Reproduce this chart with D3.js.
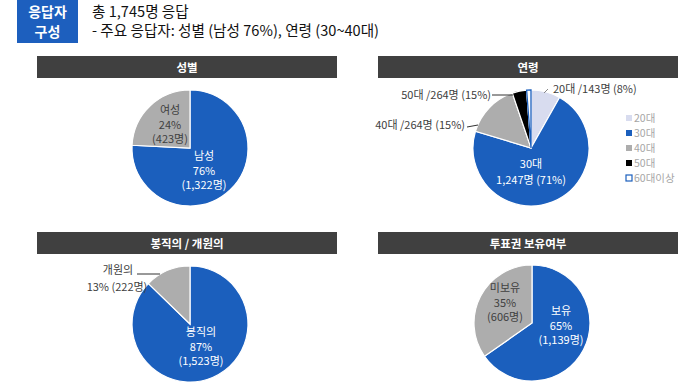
<!DOCTYPE html>
<html>
<head>
<meta charset="utf-8">
<script src="https://cdn.jsdelivr.net/npm/d3@7"></script>
<style>
  body { margin: 0; background: #fff; }
  svg { font-family: "Noto Sans CJK KR", "Noto Sans", sans-serif; }
</style>
</head>
<body>
<div id="chart"></div>
<script>
// data
const genderCats = ['남성', '여성'];
const genderVals = [1322, 423];
const genderLbls = [['남성', '76%', '(1,322명)'], ['여성', '24%', '(423명)']];

const ageCats = ['20대', '30대', '40대', '50대', '60대이상'];
const ageVals = [143, 1247, 264, 70, 21];
const ageLbls = ['20대 /143명 (8%)', '30대', '40대 /264명 (15%)', '50대 /264명 (15%)'];

const jobCats = ['봉직의', '개원의'];
const jobVals = [1523, 222];
const jobLbls = [['봉직의', '87%', '(1,523명)'], ['개원의', '13% (222명)']];

const voteCats = ['보유', '미보유'];
const voteVals = [1139, 606];
const voteLbls = [['보유', '65%', '(1,139명)'], ['미보유', '35%', '(606명)']];

const panelTitles = ['성별', '연령', '봉직의 / 개원의', '투표권 보유여부'];

const BLUE = '#1b5fbd', GRAY = '#adadad', LAV = '#d8dcef', BLACK = '#000';

const width = 680, height = 389;
const svg = d3.select('#chart').append('svg').attr('width', width).attr('height', height);

// badge + heading
svg.append('rect').attr('x', 17).attr('y', 0).attr('width', 61).attr('height', 43).attr('fill', '#1d5fbe');
svg.append('text').attr('x', 47.5).attr('y', 17).attr('text-anchor', 'middle').attr('fill', '#fff')
  .attr('font-size', 14).attr('font-weight', 700).text('응답자');
svg.append('text').attr('x', 47.5).attr('y', 37).attr('text-anchor', 'middle').attr('fill', '#fff')
  .attr('font-size', 14).attr('font-weight', 700).text('구성');
svg.append('text').attr('x', 92).attr('y', 17).attr('font-size', 14.6).attr('fill', '#111').text('총 1,745명 응답');
svg.append('text').attr('x', 92).attr('y', 36).attr('font-size', 14.6).attr('fill', '#111')
  .text('- 주요 응답자: 성별 (남성 76%), 연령 (30~40대)');

// panel headers
const headers = [[37, 56], [378, 56], [37, 232], [378, 232]];
headers.forEach((h, i) => {
  svg.append('rect').attr('x', h[0]).attr('y', h[1]).attr('width', 300).attr('height', 22).attr('fill', '#404040');
  svg.append('text').attr('x', h[0] + 150).attr('y', h[1] + 15.5).attr('text-anchor', 'middle')
    .attr('fill', '#fff').attr('font-size', 11.5).attr('font-weight', 700).text(panelTitles[i]);
});

const r = 58;
const arc = d3.arc().innerRadius(0).outerRadius(r);

function drawPie(cx, cy, vals, colors) {
  const pie = d3.pie().sort(null).value(d => d);
  const g = svg.append('g').attr('transform', `translate(${cx},${cy})`);
  const arcs = pie(vals);
  g.selectAll('path').data(arcs).enter().append('path')
    .attr('d', arc)
    .attr('fill', (d, i) => colors[i])
    .attr('stroke', '#fff').attr('stroke-width', 1.2);
  return { g, arcs };
}

function lines(x, y, arr, color, step) {
  arr.forEach((t, i) => {
    svg.append('text').attr('x', x).attr('y', y + i * step).attr('text-anchor', 'middle')
      .attr('fill', color).attr('font-size', 11).text(t);
  });
}

function label(x, y, t, anchor) {
  svg.append('text').attr('x', x).attr('y', y).attr('text-anchor', anchor)
    .attr('font-size', 11).attr('fill', '#404040').text(t);
}

function leader(x1, y1, x2, y2, c) {
  svg.append('line').attr('x1', x1).attr('y1', y1).attr('x2', x2).attr('y2', y2)
    .attr('stroke', c || '#333').attr('stroke-width', 1);
}

// 성별
drawPie(190, 148, genderVals, [BLUE, GRAY]);
lines(204, 160, genderLbls[0], '#fff', 14.5);
lines(170, 114, genderLbls[1], '#404040', 14.5);

// 연령
{
  const p = drawPie(531, 148, ageVals, [LAV, BLUE, GRAY, BLACK, '#fff']);
  // 60대이상 slice outlined in blue
  p.g.append('path').attr('d', arc(p.arcs[4])).attr('fill', '#fff').attr('stroke', BLUE).attr('stroke-width', 1.3);
  lines(531, 168, ['30대'], '#fff', 15);
  lines(531, 184, ['1,247명 (71%)'], '#fff', 15);
  label(553, 93, ageLbls[0], 'start');
  leader(544, 93, 548, 89, '#888');
  label(491, 99, ageLbls[3], 'end');
  leader(492, 95, 513, 95);
  label(465, 129, ageLbls[2], 'end');
  leader(467, 127, 478, 125);

  // legend
  const legColors = [LAV, BLUE, GRAY, BLACK, '#fff'];
  const lg = svg.append('g').attr('transform', 'translate(626,118)');
  ageCats.forEach((c, i) => {
    const row = lg.append('g').attr('transform', `translate(0,${i * 15})`);
    row.append('rect').attr('x', 0).attr('y', -3).attr('width', 6).attr('height', 6)
      .attr('fill', legColors[i]).attr('stroke', i === 4 ? BLUE : 'none').attr('stroke-width', 1.2);
    row.append('text').attr('x', 8).attr('y', 4).attr('font-size', 10.5).attr('fill', '#a6a6a6').text(c);
  });
}

// 봉직의 / 개원의
drawPie(190, 324, jobVals, [BLUE, GRAY]);
lines(201, 336, jobLbls[0], '#fff', 14.5);
label(118, 274, jobLbls[1][0], 'middle');
label(117, 291, jobLbls[1][1], 'middle');
leader(137, 274, 160, 274);

// 투표권 보유여부
drawPie(532, 323, voteVals, [BLUE, GRAY]);
lines(561, 315, voteLbls[0], '#fff', 14.5);
lines(505, 292, voteLbls[1], '#404040', 14.5);
</script>
</body>
</html>
